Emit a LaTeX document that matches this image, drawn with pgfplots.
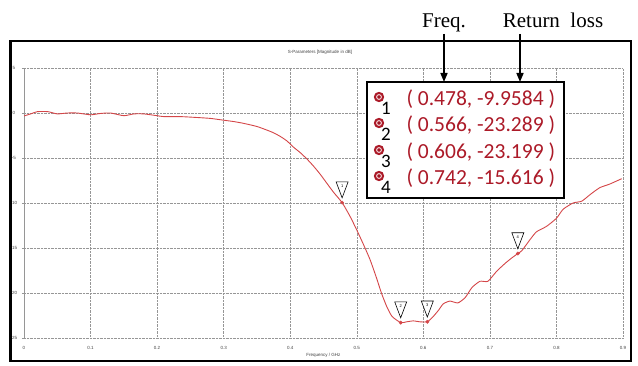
\documentclass[border=0pt]{standalone}
\usepackage{pgfplots}
\pgfplotsset{compat=1.18}
\usepackage{fontspec}
\setmainfont{Liberation Sans}
\newfontfamily\timesfont{Liberation Serif}
\newfontfamily\calfont{Carlito}
\usetikzlibrary{shapes.geometric,arrows.meta}
\definecolor{trace}{RGB}{212,70,72}
\definecolor{mkred}{RGB}{172,26,40}
\definecolor{gridgray}{RGB}{150,150,150}

\begin{document}
\begin{tikzpicture}[x=1pt,y=1pt]
\path[use as bounding box] (0,0) rectangle (638,365);

\begin{axis}[
  at={(24pt,27pt)}, anchor=south west,
  scale only axis, width=599pt, height=270pt,
  xmin=0, xmax=0.9, ymin=-25, ymax=5,
  xtick={0,0.1,0.2,0.3,0.4,0.5,0.6,0.7,0.8,0.9},
  xticklabels={0,0.1,0.2,0.3,0.4,0.5,0.6,0.7,0.8,0.9},
  ytick={-25,-20,-15,-10,-5,0,5},
  yticklabels={-25,-20,-15,-10,-5,0,5},
  axis y line*=left, axis x line*=bottom,
  x axis line style={draw=none},
  y axis line style={draw=gridgray, line width=0.5pt},
  grid=major,
  major grid style={densely dotted, draw=gridgray, line width=0.5pt},
  tick align=outside,
  major tick length=2pt,
  xtick style={draw=none},
  ytick style={draw=gridgray, line width=0.5pt},
  tick label style={font=\fontsize{4.5}{5}\selectfont, text=black!75},
  /pgf/number format/assume math mode=true,
  xticklabel style={anchor=center, yshift=-8pt},
  yticklabel style={anchor=center, xshift=-8pt},
  xlabel={Frequency / GHz},
  xlabel style={at={(axis description cs:0.5,0)}, anchor=center, yshift=-17pt,
                font=\fontsize{4.5}{5}\selectfont, text=black!75},
  clip=false,
]
% measured |S11| trace
\addplot[trace, line width=0.9pt, smooth, tension=0.35] table {
x y
0     -0.33
0.01  -0.1
0.02   0.15
0.036  0.15
0.05  -0.1
0.065  0
0.08   0
0.1   -0.2
0.115 -0.05
0.13   0
0.15  -0.3
0.165 -0.1
0.18  -0.1
0.2   -0.3
0.21  -0.4
0.235 -0.4
0.26  -0.5
0.28  -0.6
0.3   -0.8
0.315 -0.95
0.33  -1.15
0.35  -1.5
0.365 -1.9
0.375 -2.2
0.385 -2.6
0.395 -3.1
0.405 -3.8
0.415 -4.4
0.425 -5.1
0.435 -5.9
0.445 -6.8
0.455 -7.8
0.465 -8.8
0.478 -9.9584
0.49  -11.5
0.5   -13.0
0.51  -14.6
0.52  -16.3
0.53  -18.4
0.537 -20.0
0.545 -21.5
0.553 -22.6
0.566 -23.289
0.575 -23.2
0.585 -23.1
0.595 -23.2
0.606 -23.199
0.615 -22.6
0.623 -21.9
0.63  -21.2
0.64  -20.9
0.652 -21.1
0.663 -20.5
0.673 -19.4
0.685 -18.7
0.697 -18.7
0.71  -17.6
0.723 -16.7
0.733 -16.1
0.742 -15.616
0.748 -15.3
0.76  -14.1
0.77  -13.2
0.785 -12.6
0.80  -11.7
0.81  -10.7
0.825 -10.0
0.838 -9.8
0.85  -9.1
0.865 -8.3
0.88  -7.9
0.898 -7.3
};
% markers with numbered flags
\addplot[only marks, mark=*, mark size=1.7pt, trace,
  nodes near coords, point meta=explicit symbolic,
  every node near coord/.append style={shape=isosceles triangle,
    shape border rotate=-90, isosceles triangle stretches,
    minimum width=12pt, minimum height=16pt, inner sep=0pt,
    draw=black, fill=white, line width=0.6pt, text=black,
    font=\fontsize{4}{4}\selectfont, anchor=apex, yshift=4pt}]
  table[meta=label] {
x      y        label
0.478  -9.9584  1
0.566  -23.289  2
0.606  -23.199  3
0.742  -15.616  4
};
\end{axis}

% window frame and title
\draw[line width=1.1pt] (10,4) rectangle (631,324);
\draw[line width=2.6pt] (10.5,4) -- (10.5,324);
\node[font=\fontsize{4.5}{5}\selectfont, text=black!75] at (320,313) {S-Parameters [Magnitude in dB]};

% marker readout box
\draw[line width=2.2pt, fill=white] (367,167) rectangle (564,283);
\foreach \yc/\n/\txt in {266/1/{( 0.478, -9.9584 )},
                         240/2/{( 0.566, -23.289 )},
                         213/3/{( 0.606, -23.199 )},
                         187/4/{( 0.742, -15.616 )}} {
  \fill[mkred] (379,\yc+2) circle (5.2);
  \draw[white!85!mkred, line width=0.9pt] (379,\yc+2) circle (2.4);
  \fill[mkred!80!black] (379,\yc+2) circle (0.9);
  \node[font=\calfont\fontsize{19}{19}\selectfont] at (386,\yc-9) {\n};
  \node[anchor=west, text=mkred, font=\calfont\fontsize{21.5}{21.5}\selectfont] at (403,\yc) {\txt};
}

% column captions with arrows
\node[anchor=base, font=\timesfont\fontsize{21}{21}\selectfont] at (444,337) {Freq.};
\node[anchor=base, font=\timesfont\fontsize{21}{21}\selectfont] at (553,337) {Return\hspace{0.5em}loss};
\draw[line width=1.6pt, -{Triangle[length=9pt,width=7pt]}] (444,331) -- (444,283);
\draw[line width=1.6pt, -{Triangle[length=9pt,width=7pt]}] (520,331) -- (520,283);
\end{tikzpicture}
\end{document}
